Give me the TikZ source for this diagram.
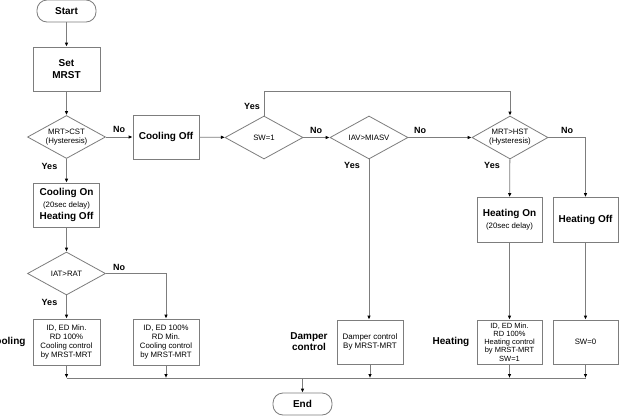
\documentclass[tikz,border=0pt]{standalone}
\usepackage{fontspec}
\setmainfont{Liberation Sans}
\usetikzlibrary{arrows.meta, shapes.geometric}
\definecolor{lngray}{RGB}{125,125,125}

\begin{document}
\begin{tikzpicture}[x=1pt, y=-1pt,
    procbox/.style={draw=lngray, line width=0.8pt, minimum width=66pt, minimum height=44pt,
                    align=center, inner sep=1pt},
    decbox/.style={draw=lngray, line width=0.8pt, diamond, aspect=1.8, minimum width=78pt,
                   minimum height=43pt, inner sep=0pt, align=center,
                   font=\fontsize{7.8}{9}\selectfont},
    termbox/.style={draw=lngray, line width=0.8pt, rounded corners=10pt, minimum width=59pt,
                    minimum height=22pt, font=\bfseries\fontsize{10}{12}\selectfont},
    flow/.style={draw=lngray, line width=0.8pt, -{Latex[length=4pt, width=3.6pt, color=black]}},
    lbl/.style={font=\bfseries\fontsize{9}{10}\selectfont, inner sep=0pt},
    big/.style={font=\bfseries\fontsize{10}{12}\selectfont},
    small/.style={font=\fontsize{7.8}{9}\selectfont},
]
    \useasboundingbox[fill=white] (0,0) rectangle (619,418);

    \node[termbox] (start) at (66.5,11) {Start};
    \node[procbox, big, minimum width=67pt] (mrst) at (66.5,69) {Set\\MRST};
    \node[decbox] (cst) at (66.5,137) {MRT>CST\\(Hysteresis)};
    \node[procbox, big] (coff) at (166,137) {Cooling Off};
    \node[procbox, big] (con) at (66.5,205) {Cooling On\\{\mdseries\fontsize{7.8}{9}\selectfont (20sec delay)}\\Heating Off};
    \node[decbox] (iat) at (66.5,273.5) {IAT>RAT};
    \node[procbox, small, minimum width=67pt, minimum height=46pt] (cdmin) at (66.5,342)
        {ID, ED Min.\\RD 100\%\\Cooling control\\by MRST-MRT};
    \node[procbox, small, minimum height=46pt] (cdmax) at (166,342)
        {ID, ED 100\%\\RD Min.\\Cooling control\\by MRST-MRT};

    \node[decbox] (sw) at (264,137.5) {SW=1};
    \node[decbox] (iav) at (369,137.5) {IAV>MIASV};
    \node[decbox, minimum width=76pt] (hst) at (510,137.5) {MRT>HST\\(Hysteresis)};
    \node[procbox, font=\fontsize{8}{8.5}\selectfont] (damp) at (370,342) {Damper control\\By MRST-MRT};

    \node[procbox, big, minimum width=65pt, minimum height=45pt] (hon) at (509.5,220)
        {Heating On\\{\mdseries\fontsize{7.8}{9}\selectfont (20sec delay)}};
    \node[procbox, big, minimum width=65pt, minimum height=45pt] (hoff) at (585.5,220) {Heating Off};
    \node[procbox, font=\fontsize{7.5}{8.3}\selectfont, minimum width=65pt] (hctl) at (509.5,342)
        {ID, ED Min.\\RD 100\%\\Heating control\\by MRST-MRT\\SW=1};
    \node[procbox, small, minimum width=65pt] (sw0) at (585.5,342) {SW=0};
    \node[termbox] (end) at (302.5,404) {End};

    \node[big, anchor=east] (tcool) at (29,342) {Cooling};
    \node[big, align=center, font=\bfseries\fontsize{10}{11}\selectfont] (tdamp) at (309,342) {Damper\\control};
    \node[big] (theat) at (451,342) {Heating};

    \node[lbl] (no1) at (119,129) {No};
    \node[lbl] (yes1) at (49.5,166) {Yes};
    \node[lbl] (no2) at (119,267) {No};
    \node[lbl] (yes2) at (49.5,302) {Yes};
    \node[lbl] (yes3) at (252,106) {Yes};
    \node[lbl] (no3) at (316,130) {No};
    \node[lbl] (yes4) at (352,165) {Yes};
    \node[lbl] (no4) at (420,130) {No};
    \node[lbl] (no5) at (567,130) {No};
    \node[lbl] (yes5) at (492,165) {Yes};

    \coordinate (swtop) at (264,91);
    \coordinate (mergel) at (66.5,378);
    \coordinate (merger) at (585.5,378);

    \draw[flow] (start) -- (mrst);
    \draw[flow] (mrst) -- (cst);
    \draw[flow] (cst) -- (coff);
    \draw[flow] (cst) -- (con);
    \draw[flow] (con) -- (iat);
    \draw[flow] (iat) -- (cdmin);
    \draw[flow] (iat.east) -| (cdmax.north);
    \draw[flow] (coff) -- (sw);
    \draw[flow] (sw) -- (iav);
    \draw[flow] (iav) -- (hst);
    \draw[flow] (sw.north) -- (swtop) -| (hst.north);
    \draw[flow] (iav.south) -- (iav.south |- damp.north);
    \draw[flow] (hst) -- (hon);
    \draw[flow] (hst.east) -| (hoff.north);
    \draw[flow] (hon) -- (hctl);
    \draw[flow] (hoff) -- (sw0);

    \draw[draw=lngray, line width=0.8pt] (mergel) -- (merger);
    \foreach \b in {cdmin, cdmax, damp, hctl, sw0}
        \draw[flow] (\b.south) -- (\b.south |- mergel);
    \draw[flow] (end.north |- mergel) -- (end.north);
\end{tikzpicture}
\end{document}
